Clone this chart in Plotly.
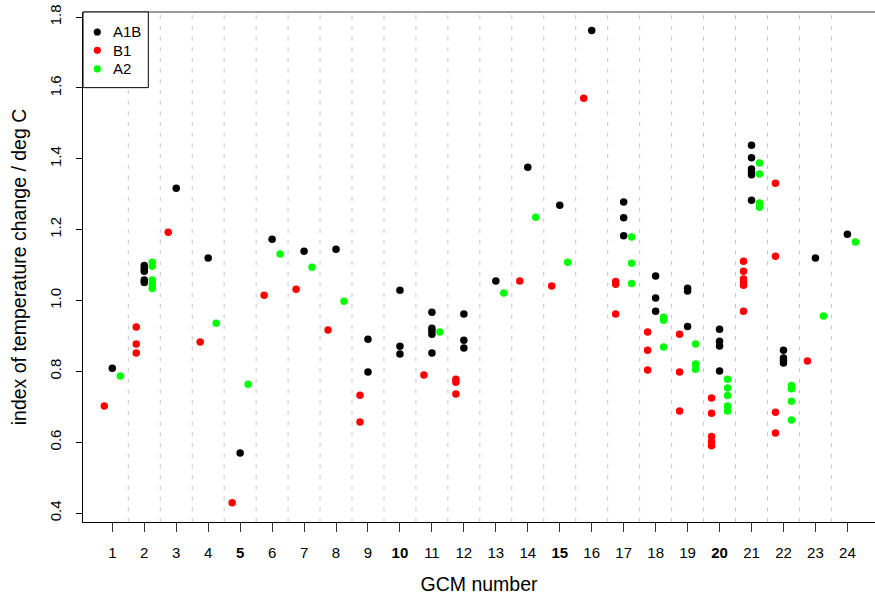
import plotly.graph_objects as go

# ---- data ----
gcm_ticks = list(range(1, 25))
tick_labels = [str(i) for i in gcm_ticks]

a1b_gcm = [1, 2, 2, 2, 2, 2, 3, 4, 5, 6, 7, 8, 9, 9, 10, 10, 10,
           11, 11, 11, 11, 11, 12, 12, 12, 13, 14, 15, 16,
           17, 17, 17, 18, 18, 18, 19, 19, 19, 20, 20, 20, 20,
           21, 21, 21, 21, 21, 21, 22, 22, 22, 22, 23, 24]
a1b_val = [0.809, 1.099, 1.090, 1.083, 1.058, 1.051, 1.317, 1.120, 0.570, 1.173, 1.139, 1.145,
           0.891, 0.798, 1.029, 0.871, 0.849,
           0.967, 0.922, 0.915, 0.905, 0.852, 0.962, 0.888, 0.866, 1.055, 1.376, 1.269, 1.762,
           1.278, 1.234, 1.183, 1.069, 1.007, 0.970, 1.035, 1.027, 0.927, 0.919, 0.885, 0.872, 0.801,
           1.438, 1.403, 1.371, 1.363, 1.355, 1.283, 0.860, 0.838, 0.831, 0.824, 1.120, 1.187]

b1_gcm = [1, 2, 2, 2, 3, 4, 5, 6, 7, 8, 9, 9, 11, 12, 12, 12, 14, 15, 16,
          17, 17, 17, 18, 18, 18, 19, 19, 19, 20, 20, 20, 20, 20,
          21, 21, 21, 21, 21, 21, 22, 22, 22, 22, 23]
b1_val = [0.702, 0.925, 0.877, 0.852, 1.193, 0.883, 0.429, 1.015, 1.032, 0.917, 0.733, 0.657,
          0.790, 0.778, 0.769, 0.736, 1.055, 1.041, 1.571,
          1.054, 1.046, 0.962, 0.911, 0.860, 0.804, 0.905, 0.798, 0.688,
          0.725, 0.682, 0.616, 0.602, 0.590,
          1.111, 1.083, 1.061, 1.052, 1.043, 0.970, 1.331, 1.125, 0.685, 0.626, 0.829]

a2_gcm = [1, 2, 2, 2, 2, 2, 4, 5, 6, 7, 8, 11, 13, 14, 15, 17, 17, 17, 18, 18, 18,
          19, 19, 19, 20, 20, 20, 20, 20, 21, 21, 21, 21, 22, 22, 22, 22, 23, 24]
a2_val = [0.787, 1.108, 1.097, 1.058, 1.046, 1.034, 0.936, 0.764, 1.131, 1.094, 0.998, 0.911,
          1.021, 1.235, 1.108, 1.179, 1.105, 1.048, 0.953, 0.944, 0.869,
          0.877, 0.821, 0.806, 0.778, 0.753, 0.732, 0.702, 0.688,
          1.388, 1.357, 1.275, 1.263, 0.760, 0.751, 0.716, 0.663, 0.956, 1.165]

y_ticks = [0.4, 0.6, 0.8, 1.0, 1.2, 1.4, 1.6, 1.8]
y_tick_labels = ["0.4", "0.6", "0.8", "1.0", "1.2", "1.4", "1.6", "1.8"]

series = [
    ("A1B", a1b_gcm, a1b_val, 0.0, "#000000"),
    ("B1", b1_gcm, b1_val, -0.25, "#ff0000"),
    ("A2", a2_gcm, a2_val, 0.25, "#00ff00"),
]

FONT = "Liberation Sans, Arial, Helvetica, sans-serif"

fig = go.Figure()
for name, g, v, off, col in series:
    fig.add_trace(go.Scatter(
        x=[gi + off for gi in g], y=v, mode="markers", name=name,
        marker=dict(color=col, size=7.5, line=dict(width=0)),
        showlegend=False, cliponaxis=False,
    ))

shapes = []
# dashed separators between GCMs
for k in range(1, 24):
    shapes.append(dict(type="line", xref="x", yref="paper", x0=k + 0.5, x1=k + 0.5,
                       y0=0, y1=0.995, layer="below",
                       line=dict(color="#c4c4c4", width=1, dash="4px,6.7px")))
# top border (greyish)
shapes.append(dict(type="line", xref="paper", yref="paper", x0=0, x1=1, y0=1, y1=1,
                   line=dict(color="#7a7a7a", width=1.3)))

# manual legend box
PW, PH = 792.0, 510.3
shapes.append(dict(type="rect", xref="paper", yref="paper",
                   x0=0, x1=65.3 / PW, y0=1 - 75.7 / PH, y1=1,
                   line=dict(color="#000000", width=1), fillcolor="white"))
annotations = []
leg_y = [20.0, 38.3, 57.0]
for (name, g, v, off, col), dy in zip(series, leg_y):
    cx = 14.3 / PW
    cy = 1 - dy / PH
    rx, ry = 3.6 / PW, 3.6 / PH
    shapes.append(dict(type="circle", xref="paper", yref="paper",
                       x0=cx - rx, x1=cx + rx, y0=cy - ry, y1=cy + ry,
                       fillcolor=col, line=dict(width=0)))
    annotations.append(dict(xref="paper", yref="paper", x=28.0 / PW, y=cy,
                            xanchor="left", yanchor="middle", text=name, showarrow=False,
                            font=dict(family=FONT, size=15, color="#000000")))

ticktext = [f"<b>{t}</b>" if int(t) % 5 == 0 else t for t in tick_labels]

fig.update_layout(
    width=875, height=595,
    margin=dict(l=83, r=0, t=12, b=72.7, autoexpand=False),
    paper_bgcolor="white", plot_bgcolor="white",
    font=dict(family=FONT, size=15, color="#000000"),
    shapes=shapes, annotations=annotations,
    xaxis=dict(
        range=[0.083, 24.864], tickmode="array", tickvals=gcm_ticks, ticktext=ticktext,
        showgrid=False, zeroline=False, showline=True, linecolor="#000000", linewidth=1,
        ticks="outside", ticklen=9, tickcolor="#333333", tickwidth=1, automargin=False,
        ticklabelstandoff=8, ticklabeloverflow="allow",
        tickfont=dict(size=15, family=FONT, color="#000000"),
        title=dict(text="GCM number", font=dict(size=19.5, family=FONT), standoff=27),
    ),
    yaxis=dict(
        range=[0.3749, 1.8144], tickmode="array", tickvals=y_ticks, ticktext=y_tick_labels,
        showgrid=False, zeroline=False, showline=True, linecolor="#000000", linewidth=1,
        ticks="outside", ticklen=6, tickcolor="#000000", tickwidth=1, tickangle=-90,
        automargin=False, ticklabelstandoff=9, ticklabeloverflow="allow",
        tickfont=dict(size=15, family=FONT, color="#000000"),
        title=dict(text="index of temperature change / deg C", font=dict(size=19.5, family=FONT),
                   standoff=15),
    ),
)

# remove the default 8px page margin so the figure sits at the window's top-left corner
fig.write_html("out.html", config={"displayModeBar": False},
               post_script="document.body.style.margin='0';")
